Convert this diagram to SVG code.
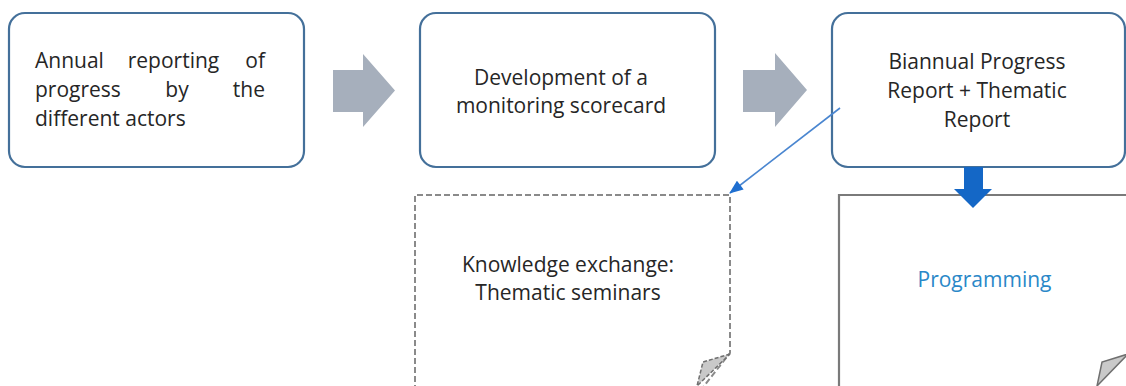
<svg xmlns="http://www.w3.org/2000/svg" width="1126" height="386" viewBox="0 0 1126 386">
<defs>
<style>
.box{fill:#ffffff;stroke:#44709a;stroke-width:2.2}
.t{font-family:"Open Sans","Noto Sans",sans-serif;font-size:21px;fill:#262626}
.c{text-anchor:middle}
.garrow{fill:#a6afbc}
.dash{fill:#ffffff;stroke:#8a8a8a;stroke-width:2;stroke-dasharray:6 3}
.fold{fill:#c9c9c9;stroke:#6f6f6f;stroke-width:1.5}
</style>
<marker id="ah" viewBox="0 0 14 11" refX="13" refY="5.5" markerWidth="15" markerHeight="11" markerUnits="userSpaceOnUse" orient="auto">
<path d="M0,0 L14,5.5 L0,11 z" fill="#1f6fd0"/>
</marker>
</defs>
<rect width="1126" height="386" fill="#ffffff"/>

<g id="node-annual">
<rect class="box" x="9" y="13" width="295" height="154" rx="16"/>
<text class="t" x="35" y="68">Annual</text>
<text class="t c" x="173.5" y="68">reporting</text>
<text class="t" x="265" y="68" text-anchor="end">of</text>
<text class="t" x="35" y="97">progress</text>
<text class="t c" x="177" y="97">by</text>
<text class="t" x="265" y="97" text-anchor="end">the</text>
<text class="t" x="35" y="126">different actors</text>
</g>

<g id="node-scorecard">
<rect class="box" x="420" y="13" width="295" height="154" rx="16"/>
<text class="t c" x="561" y="85">Development of a</text>
<text class="t c" x="561" y="113">monitoring scorecard</text>
</g>

<g id="node-biannual">
<rect class="box" x="832" y="13" width="293" height="154" rx="16"/>
<text class="t c" x="977" y="69">Biannual Progress</text>
<text class="t c" x="977" y="98">Report + Thematic</text>
<text class="t c" x="977" y="127">Report</text>
</g>

<g id="node-knowledge">
<path class="dash" d="M415,400 L415,195 L730,195 L730,353 L693,400"/>
<path class="fold" d="M730,354 L703,362 L697,386 Z" stroke-dasharray="4 2"/>
<text class="t c" x="568" y="272">Knowledge exchange:</text>
<text class="t c" x="568" y="300">Thematic seminars</text>
</g>

<g id="node-programming">
<path d="M839,400 L839,195 L1140,195" fill="#ffffff" stroke="#7a7a7a" stroke-width="2.2"/>
<path class="fold" d="M1128,354 L1102,362 L1097,386 Z"/>
<text class="t c" x="984.5" y="287" style="fill:#2a88c8">Programming</text>
</g>

<g id="connectors">
<path class="garrow" d="M333,70 L363,70 L363,54 L395,90.5 L363,127 L363,112 L333,112 Z"/>
<path class="garrow" d="M743,70 L775,70 L775,53 L807,90 L775,127 L775,112 L743,112 Z"/>
<path d="M964,167 L983,167 L983,189 L992,189 L973,208 L954,189 L964,189 Z" fill="#1467c6"/>
<line x1="840" y1="108" x2="730" y2="193" stroke="#4a86d0" stroke-width="1.6" marker-end="url(#ah)"/>
</g>
</svg>
